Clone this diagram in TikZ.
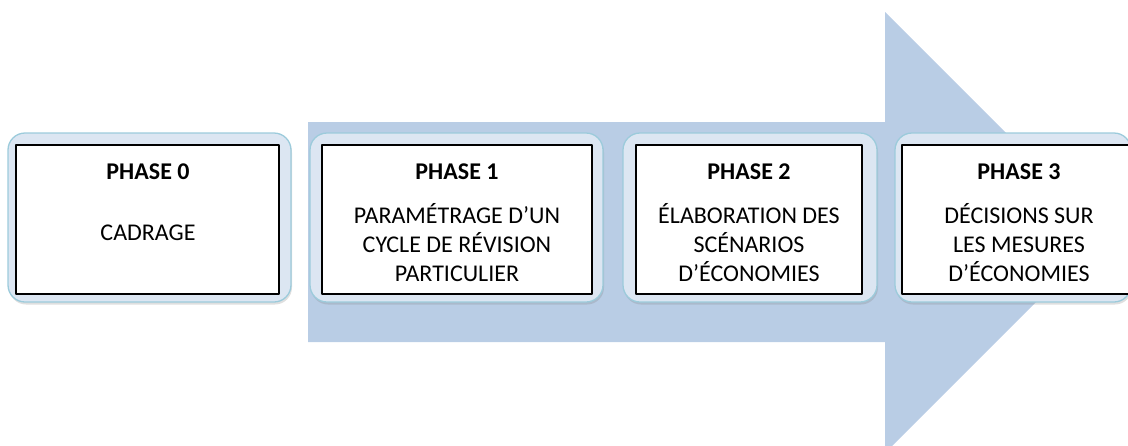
\documentclass[tikz,border=0pt]{standalone}
\usepackage{fontspec}
\setmainfont{Carlito}
\usetikzlibrary{shadows}

\definecolor{arrowblue}{HTML}{B9CDE5}
\definecolor{paleblue}{HTML}{DCE6F2}
\definecolor{borderblue}{HTML}{9CCBDB}

\begin{document}
\begin{tikzpicture}[
    x = 1pt, y = -1pt,
    line join=round,
    seta/.style = {fill=arrowblue},
    fundo/.style = {draw=borderblue, line width=1.3pt, fill=paleblue, rounded corners=17pt,
        drop shadow={opacity=0.25, shadow xshift=1pt, shadow yshift=-2.5pt}},
    caixa/.style = {draw=black, line width=1.4pt, fill=white},
    texto/.style = {align=center, inner sep=0pt, anchor=north, font=\fontsize{24}{29}\selectfont}
]

    \clip (0,0) rectangle (1128,445);

    % seta grande ao fundo
    \fill[seta] (308,122) -- (885,122) -- (885,12) -- (1105.5,232.5) -- (885,453) -- (885,342) -- (308,342) -- cycle;

    \foreach \n/\fx/\fw/\cx/\cw in {0/149.5/283/147.5/263, 1/456.5/293/457/270, 2/750/254/749/226, 3/1013/236/1019/234} {
        \node[fundo, minimum width=\fw pt, minimum height=169pt] (f\n) at (\fx, 217.5) {};
        \node[caixa, minimum width=\cw pt, minimum height=149pt] (c\n) at (\cx, 219.5) {};
    }

    \node[texto] (t0) at (148, 164) {\textbf{PHASE 0}\\[32pt] CADRAGE};
    \node[texto] (t1) at (457, 164) {\textbf{PHASE 1}\\[15pt] PARAMÉTRAGE D’UN\\CYCLE DE RÉVISION\\PARTICULIER};
    \node[texto] (t2) at (749, 164) {\textbf{PHASE 2}\\[15pt] ÉLABORATION DES\\SCÉNARIOS\\D’ÉCONOMIES};
    \node[texto] (t3) at (1019, 164) {\textbf{PHASE 3}\\[15pt] DÉCISIONS SUR\\LES MESURES\\D’ÉCONOMIES};

\end{tikzpicture}
\end{document}
